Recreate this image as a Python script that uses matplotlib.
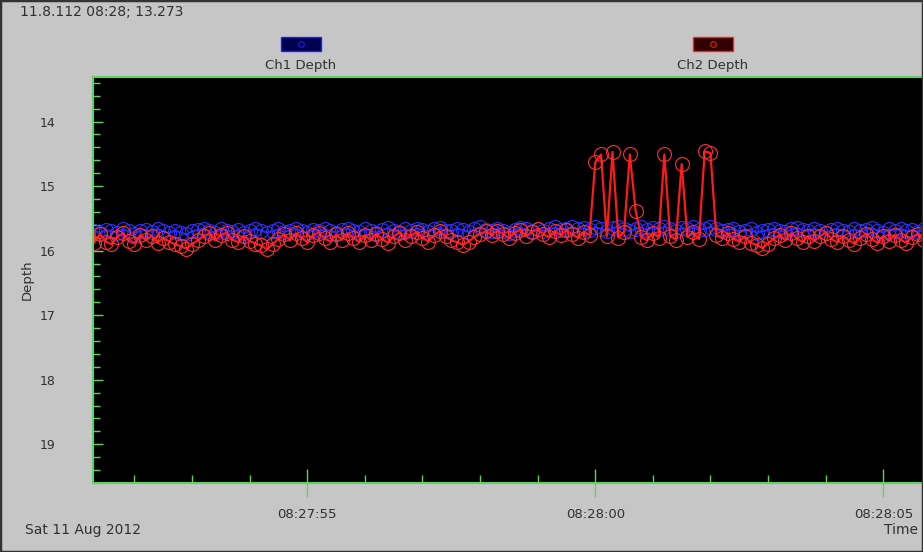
import matplotlib
matplotlib.use("Agg")
from matplotlib import pyplot as plt
from matplotlib.patches import Rectangle
from matplotlib.lines import Line2D
import numpy as np

# seconds relative to 08:28:00, sampled every 0.1 s
t_start = -8.8
t_step = 0.1

ch1_depth = [
    15.71, 15.69, 15.73, 15.68, 15.70, 15.72, 15.67, 15.70, 15.74, 15.69,
    15.68, 15.71, 15.66, 15.70, 15.73, 15.69, 15.72, 15.75, 15.70, 15.68,
    15.66, 15.70, 15.72, 15.67, 15.69, 15.71, 15.68, 15.73, 15.70, 15.66,
    15.69, 15.72, 15.70, 15.67, 15.71, 15.69, 15.66, 15.70, 15.73, 15.68,
    15.70, 15.67, 15.69, 15.72, 15.68, 15.66, 15.70, 15.71, 15.67, 15.69,
    15.72, 15.68, 15.65, 15.69, 15.71, 15.67, 15.70, 15.66, 15.68, 15.71,
    15.67, 15.65, 15.69, 15.70, 15.66, 15.68, 15.71, 15.67, 15.64, 15.68,
    15.70, 15.66, 15.69, 15.72, 15.68, 15.65, 15.67, 15.70, 15.66, 15.69,
    15.67, 15.64, 15.68, 15.66, 15.63, 15.67, 15.65, 15.68, 15.64, 15.66,
    15.69, 15.65, 15.63, 15.67, 15.70, 15.66, 15.64, 15.68, 15.65, 15.67,
    15.63, 15.66, 15.69, 15.65, 15.67, 15.64, 15.68, 15.66, 15.63, 15.67,
    15.70, 15.68, 15.66, 15.71, 15.69, 15.67, 15.72, 15.70, 15.68, 15.66,
    15.69, 15.71, 15.67, 15.65, 15.68, 15.70, 15.66, 15.69, 15.72, 15.68,
    15.66, 15.69, 15.71, 15.67, 15.70, 15.68, 15.65, 15.69, 15.72, 15.67,
    15.69, 15.66, 15.70, 15.68, 15.71, 15.67, 15.69,
]

ch2_depth = [
    15.78, 15.88, 15.74, 15.86, 15.90, 15.79, 15.73, 15.85, 15.89, 15.76,
    15.84, 15.77, 15.88, 15.80, 15.86, 15.90, 15.93, 15.97, 15.90, 15.84,
    15.78, 15.73, 15.84, 15.76, 15.72, 15.83, 15.87, 15.77, 15.85, 15.89,
    15.92, 15.98, 15.90, 15.82, 15.75, 15.84, 15.73, 15.80, 15.87, 15.76,
    15.72, 15.81, 15.86, 15.75, 15.83, 15.73, 15.80, 15.87, 15.76, 15.84,
    15.74, 15.82, 15.88, 15.78, 15.72, 15.83, 15.77, 15.71, 15.80, 15.86,
    15.76, 15.70, 15.78, 15.84, 15.87, 15.91, 15.86, 15.79, 15.74, 15.70,
    15.76, 15.69, 15.74, 15.81, 15.72, 15.68, 15.77, 15.71, 15.67, 15.75,
    15.79, 15.70, 15.76, 15.68, 15.75, 15.80, 15.71, 15.76,
    14.63, 14.51, 15.78, 14.47, 15.80, 15.71, 14.51, 15.38, 15.79, 15.84,
    15.72, 15.80, 14.51, 15.77, 15.83, 14.66, 15.79, 15.71, 15.82, 14.46,
    14.49, 15.76,
    15.80, 15.73, 15.82, 15.86, 15.78, 15.88, 15.91, 15.96, 15.89, 15.81,
    15.76, 15.84, 15.73, 15.81, 15.87, 15.77, 15.85, 15.78, 15.72, 15.82,
    15.87, 15.77, 15.84, 15.89, 15.80, 15.74, 15.82, 15.88, 15.77, 15.85,
    15.76, 15.83, 15.88, 15.79, 15.74, 15.84, 15.78,
]

x_ticks = [-5, 0, 5]
x_tick_labels = ['08:27:55', '08:28:00', '08:28:05']
y_ticks = [14, 15, 16, 17, 18, 19]

bg = '#c6c6c6'
green = '#5fd35f'
txt = '#303030'


def run():
    t = t_start + t_step * np.arange(len(ch1_depth))

    fig = plt.figure(figsize=(9.23, 5.52), dpi=100, facecolor=bg)
    ax = fig.add_axes([93 / 923, 69 / 552, 1 - 93 / 923, 406 / 552])
    ax.set_facecolor('black')

    ax.plot(t, ch1_depth, color='#2626ff', lw=1.5, marker='o', ms=10,
            mfc='none', mec='#3030ff', mew=0.8)
    ax.plot(t, ch2_depth, color='#ff1a1a', lw=1.6, marker='o', ms=10,
            mfc='none', mec='#ff3030', mew=0.8)

    ax.set_xlim(-8.72, 5.69)
    ax.set_ylim(19.57, 13.31)

    for s in ['left', 'top', 'bottom']:
        ax.spines[s].set_color(green)
        ax.spines[s].set_linewidth(1.5)
    ax.spines['right'].set_visible(False)

    ax.set_yticks(y_ticks)
    ax.set_yticks(np.arange(13.4, 19.6, 0.2), minor=True)
    ax.set_xticks(x_ticks)
    ax.set_xticklabels(x_tick_labels)
    ax.set_xticks(np.arange(-8, 6, 1), minor=True)

    ax.tick_params(axis='y', which='major', direction='in', length=7,
                   color=green, width=1, labelsize=9, labelcolor=txt, pad=27)
    ax.tick_params(axis='y', which='minor', direction='in', length=5,
                   color=green, width=1)
    ax.tick_params(axis='x', which='major', direction='inout', length=20,
                   color=green, width=1, labelsize=9.5, labelcolor=txt, pad=8)
    ax.tick_params(axis='x', which='minor', direction='in', length=6,
                   color=green, width=1)

    ax.set_ylabel('Depth', fontsize=9.5, color=txt, labelpad=4)

    fig.text(20 / 923, 1 - 12 / 552, '11.8.112 08:28; 13.273', fontsize=10,
             color=txt, va='center', ha='left')
    fig.text(25 / 923, 1 - 530 / 552, 'Sat 11 Aug 2012', fontsize=10,
             color=txt, va='center', ha='left')
    fig.text(884 / 923, 1 - 530 / 552, 'Time', fontsize=10,
             color=txt, va='center', ha='left')

    # legend boxes
    for cx, face, edge, name in [(301, '#000050', '#2020ff', 'Ch1 Depth'),
                                 (713, '#300000', '#ff2020', 'Ch2 Depth')]:
        fig.patches.append(Rectangle(((cx - 20) / 923, 1 - 51 / 552), 40 / 923,
                                     14 / 552, transform=fig.transFigure,
                                     facecolor=face, edgecolor=edge, lw=1))
        fig.lines.append(Line2D([cx / 923], [1 - 44 / 552], marker='o', ms=4,
                                mfc='none', mec=edge, mew=0.7,
                                transform=fig.transFigure))
        fig.text(cx / 923, 1 - 65 / 552, name, fontsize=9.5, color=txt,
                 ha='center', va='center')

    fig.patches.append(Rectangle((0, 0), 1, 1, transform=fig.transFigure,
                                 fill=False, edgecolor='#333333', lw=2.5))

    fig.savefig('out.png', dpi=100, facecolor=bg)


if __name__ == '__main__':
    run()
